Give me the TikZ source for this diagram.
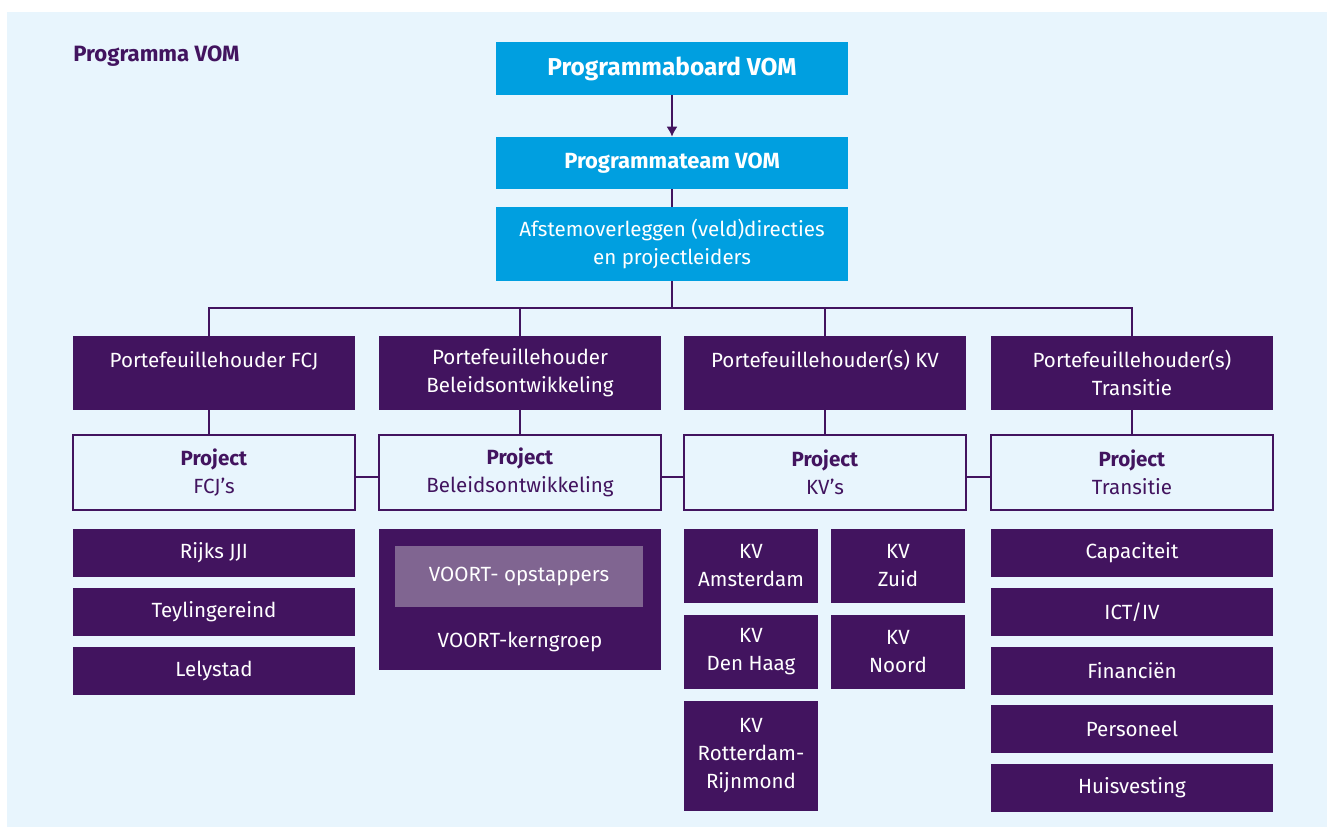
\documentclass[tikz,border=0pt]{standalone}
\usepackage{fontspec}
\setmainfont{Fira Sans}
\usetikzlibrary{arrows.meta,positioning}
\definecolor{vomblauw}{RGB}{0,159,224}
\definecolor{vompaars}{RGB}{66,20,95}
\definecolor{vomlicht}{RGB}{232,245,253}
\definecolor{vommidden}{RGB}{128,101,145}
\tikzstyle{every node}=[font=\fontsize{11.7}{15.9}\selectfont]
\tikzstyle{titel}=[anchor=west,inner sep=0pt,text=vompaars,font=\bfseries\fontsize{12.6}{14}\selectfont]
\tikzstyle{blauw}=[rectangle,fill=vomblauw,text=white,minimum width=7.04cm,inner sep=0pt,align=center]
\tikzstyle{houder}=[rectangle,fill=vompaars,text=white,minimum width=5.64cm,minimum height=1.48cm,inner sep=0pt,align=center]
\tikzstyle{project}=[rectangle,draw=vompaars,line width=0.8pt,fill=vomlicht,text=vompaars,minimum width=5.64cm,minimum height=1.5cm,inner sep=0pt,align=center]
\tikzstyle{item}=[rectangle,fill=vompaars,text=white,minimum width=5.64cm,minimum height=0.96cm,inner sep=0pt,align=center]
\tikzstyle{kv}=[rectangle,fill=vompaars,text=white,minimum width=2.68cm,minimum height=1.48cm,inner sep=0pt,align=center]
\tikzstyle{link} = [draw=vompaars,line width=1.1pt]

\begin{document}
\begin{tikzpicture}[x=0.02cm,y=-0.02cm,>={Latex[length=5.7pt,width=6.4pt]}]

    % achtergrond
    \useasboundingbox (0,0) rectangle (1327,827);
    \fill[vomlicht] (7,12) rectangle (1327,827);

    \node[titel] (titel) at (73,56) {Programma VOM};

    \node[blauw,minimum height=1.06cm,font=\bfseries\fontsize{13.9}{16}\selectfont] (board) at (672,68.5) {Programmaboard VOM};
    \node[blauw,minimum height=1.04cm,font=\bfseries\fontsize{12.5}{16}\selectfont] (team) at (672,163) {Programmateam VOM};
    \node[blauw,minimum height=1.48cm] (overleg) at (672,244) {Afstemoverleggen (veld)directies\\en projectleiders};

    \draw[link,->] (board) -- (team);
    \draw[link] (team) -- (overleg);

    % portefeuillehouders met hun project
    \foreach \x/\dx/\name/\tekst/\project in {214/-0.1/fcj/{Portefeuillehouder FCJ\\\mbox{}}/{FCJ’s},
        520/0/beleid/{Portefeuillehouder\\Beleidsontwikkeling}/{Beleidsontwikkeling},
        825/0/kv/{Portefeuillehouder(s) KV\\\mbox{}}/{KV’s},
        1132/0/trans/{Portefeuillehouder(s)\\Transitie}/{Transitie}}
    {
        \node[houder] (ph\name) at (\x,373) {\tekst};
        \node[project] (pr\name) at (\x,472.5) {\textbf{Project}\\\project};
        \draw[link] (overleg.south) -- ++(0,27) -| ([xshift=\dx cm]ph\name.north);
        \path[link] ([xshift=\dx cm]ph\name.south) -- ([xshift=\dx cm]pr\name.north);
    }

    \foreach \a/\b in {fcj/beleid,beleid/kv,kv/trans}
        \path[link] ([yshift=-0.09cm]pr\a.east) -- ([yshift=-0.09cm]pr\b.west);

    % FCJ's
    \foreach \y/\name/\tekst in {553/rijks/Rijks JJI,612/teyl/Teylingereind,671/lely/Lelystad}
        \node[item] (\name) at (214,\y) {\tekst};

    % VOORT
    \node[item,minimum height=2.82cm] (voort) at (520,599.5) {};
    \node[item,fill=vommidden,minimum width=4.96cm,minimum height=1.22cm] (opstap) at (519,576.5) {VOORT- opstappers};
    \node[text=white] (kern) at (520,642) {VOORT-kerngroep};

    % KV's
    \foreach \pos/\name/\tekst in {{(751,566)/ams/Amsterdam},{(898,566)/zuid/Zuid},{(751,652)/dh/Den Haag},{(898,652)/noord/Noord}}
        \node[kv] (\name) at \pos {KV\\\tekst};
    \node[kv,minimum height=2.2cm] (rr) at (751,756) {KV\\Rotterdam-\\Rijnmond};

    % Transitie
    \foreach \y/\name/\tekst in {553/cap/Capaciteit,612/ict/{ICT/IV},671/fin/Financiën,729/pers/Personeel,788/huis/Huisvesting}
        \node[item] (\name) at (1132,\y) {\tekst};

\end{tikzpicture}
\end{document}
